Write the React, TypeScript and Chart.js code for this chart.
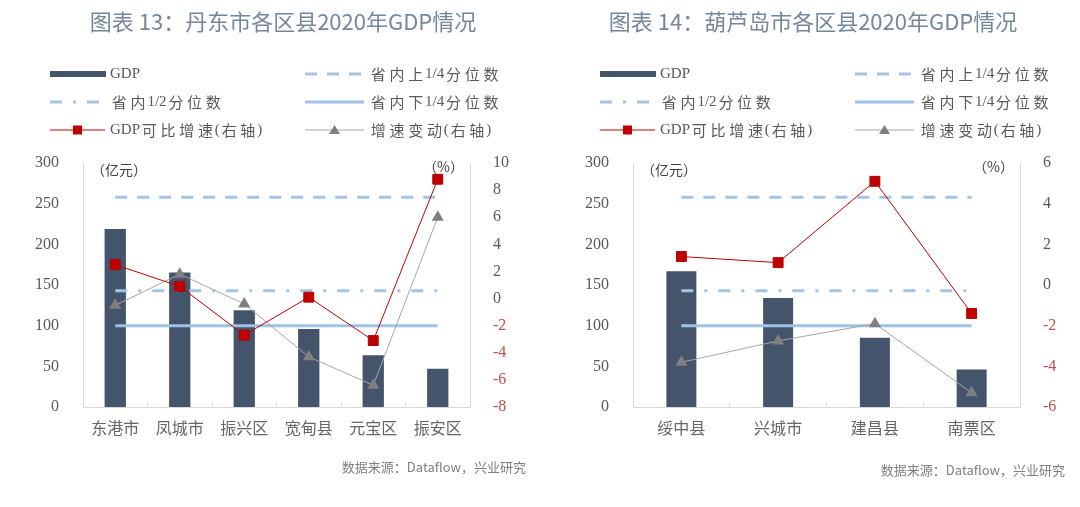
import React, { useEffect, useRef } from 'react';
import { Chart, registerables } from 'chart.js';

Chart.register(...registerables);

// ---------- data ----------
const TITLE_A = '图表 13：丹东市各区县2020年GDP情况';
const TITLE_B = '图表 14：葫芦岛市各区县2020年GDP情况';
const SOURCE_TEXT = '数据来源：Dataflow，兴业研究';

const CATS_A = ['东港市', '凤城市', '振兴区', '宽甸县', '元宝区', '振安区'];
const GDP_A = [219, 165.5, 119, 96, 63.5, 47];
const GROWTH_A = [2.5, 0.9, -2.7, 0.1, -3.1, 8.8];
const CHANGE_A = [-0.5, 1.8, -0.4, -4.3, -6.4, 6.0];

const CATS_B = ['绥中县', '兴城市', '建昌县', '南票区'];
const GDP_B = [167, 134, 85, 46];
const GROWTH_B = [1.4, 1.1, 5.1, -1.4];
const CHANGE_B = [-3.8, -2.75, -1.9, -5.3];

const UPPER_Q = 258;
const MEDIAN_Q = 143;
const LOWER_Q = 100;

const LEFT_AXIS = { min: 0, max: 300, step: 50 };
const RIGHT_AXIS_A = { min: -8, max: 10, step: 2 };
const RIGHT_AXIS_B = { min: -6, max: 6, step: 2 };

const LEGEND_LABELS = [
  'GDP',
  '省内上1/4分位数',
  '省内1/2分位数',
  '省内下1/4分位数',
  'GDP可比增速(右轴)',
  '增速变动(右轴)',
];

// ---------- styles ----------
const H = 507;
const BAR_COLOR = '#44546a';
const Q_COLOR = '#a3c5e3';
const Q_SOLID = '#9dc3e6';
const RED = '#c00000';
const GRAY_LINE = '#a6a6a6';
const GRAY_MARK = '#7f7f7f';
const TEXT = '#595959';
const NEG = '#c0504d';
const AXIS = '#d9d9d9';
const TITLE_COLOR = '#74879b';
const CJK = '"Noto Sans CJK SC"';
const SERIF = '"Liberation Serif"';

const DASH = [12, 10];
const DASH_DOT = [12, 11, 3, 11];

type Spec = {
  title: string;
  cats: string[];
  gdp: number[];
  growth: number[];
  change: number[];
  right: { min: number; max: number; step: number };
  titleX: number;
  sourceRight: number;
  sourceY: number;
  barPct: number;
  width: number;
};

function drawMixed(ctx: CanvasRenderingContext2D, text: string, x: number, y: number) {
  let cx = x;
  for (const ch of Array.from(text)) {
    const isCJK = /[\u2E80-\u9FFF\uFF00-\uFFEF]/.test(ch);
    if (isCJK) {
      ctx.font = `15px ${CJK}`;
      const w = ctx.measureText(ch).width;
      const adv = 18.7;
      ctx.fillText(ch, cx + (adv - w) / 2, y);
      cx += adv;
    } else {
      ctx.font = `15px ${SERIF}`;
      ctx.fillText(ch, cx, y);
      cx += ctx.measureText(ch).width;
    }
  }
}

function makeDecor(spec: Spec) {
  return {
    id: 'decor',
    afterDraw(chart: any) {
      const ctx: CanvasRenderingContext2D = chart.ctx;
      ctx.save();
      // title
      ctx.font = `22px ${CJK}`;
      ctx.fillStyle = TITLE_COLOR;
      ctx.textAlign = 'center';
      ctx.textBaseline = 'middle';
      ctx.fillText(spec.title, spec.titleX, 22);

      // legend
      const colSym = [50, 305];
      const colLen = [55, 59];
      const colText = [110, 369];
      const rows = [74, 102, 130];
      ctx.textAlign = 'left';
      chart.data.datasets.forEach((ds: any, i: number) => {
        const col = i % 2;
        const row = Math.floor(i / 2);
        const x0 = colSym[col];
        const len = colLen[col];
        const y = rows[row];
        ctx.save();
        if (ds.type === 'bar') {
          ctx.fillStyle = ds.backgroundColor;
          ctx.fillRect(x0, y - 3, len + 1, 6);
        } else {
          ctx.strokeStyle = ds.borderColor;
          ctx.lineWidth = ds.borderWidth;
          ctx.setLineDash(ds.borderDash || []);
          ctx.lineCap = 'butt';
          ctx.beginPath();
          ctx.moveTo(x0, y);
          ctx.lineTo(x0 + len, y);
          ctx.stroke();
          ctx.setLineDash([]);
          const cx = x0 + len / 2;
          if (ds.pointStyle === 'rect') {
            ctx.fillStyle = ds.pointBackgroundColor;
            ctx.fillRect(cx - 4.5, y - 4.5, 9, 9);
          } else if (ds.pointStyle === 'triangle') {
            ctx.fillStyle = ds.pointBackgroundColor;
            ctx.beginPath();
            ctx.moveTo(cx, y - 5);
            ctx.lineTo(cx + 5.5, y + 4);
            ctx.lineTo(cx - 5.5, y + 4);
            ctx.closePath();
            ctx.fill();
          }
        }
        ctx.restore();
        ctx.fillStyle = TEXT;
        ctx.textBaseline = 'middle';
        drawMixed(ctx, LEGEND_LABELS[i], colText[col], y);
      });

      // units
      ctx.fillStyle = '#404040';
      ctx.font = `14px ${CJK}`;
      ctx.textAlign = 'left';
      ctx.textBaseline = 'middle';
      ctx.fillText('（亿元）', 91, 170);
      ctx.textAlign = 'right';
      ctx.fillText('（%）', 464, 167);

      // source
      ctx.fillStyle = '#808080';
      ctx.font = `13px ${CJK}`;
      ctx.textAlign = 'right';
      ctx.fillText(SOURCE_TEXT, spec.sourceRight, spec.sourceY);
      ctx.restore();
    },
  };
}

function makeConfig(spec: Spec): any {
  const n = spec.cats.length;
  const fill = (v: number) => spec.cats.map(() => v);
  return {
    type: 'bar',
    data: {
      labels: spec.cats,
      datasets: [
        {
          type: 'bar',
          label: LEGEND_LABELS[0],
          data: spec.gdp,
          backgroundColor: BAR_COLOR,
          barPercentage: spec.barPct,
          categoryPercentage: 1,
          yAxisID: 'y',
          order: 10,
        },
        {
          type: 'line',
          label: LEGEND_LABELS[1],
          data: fill(UPPER_Q),
          borderColor: Q_COLOR,
          borderWidth: 3,
          borderDash: DASH,
          pointRadius: 0,
          yAxisID: 'y',
          order: 5,
        },
        {
          type: 'line',
          label: LEGEND_LABELS[2],
          data: fill(MEDIAN_Q),
          borderColor: Q_COLOR,
          borderWidth: 3,
          borderDash: DASH_DOT,
          pointRadius: 0,
          yAxisID: 'y',
          order: 5,
        },
        {
          type: 'line',
          label: LEGEND_LABELS[3],
          data: fill(LOWER_Q),
          borderColor: Q_SOLID,
          borderWidth: 3,
          pointRadius: 0,
          yAxisID: 'y',
          order: 5,
        },
        {
          type: 'line',
          label: LEGEND_LABELS[4],
          data: spec.growth,
          borderColor: RED,
          borderWidth: 1,
          pointStyle: 'rect',
          pointRadius: 7,
          pointBackgroundColor: RED,
          pointBorderColor: '#b00000',
          pointBorderWidth: 1,
          yAxisID: 'y1',
          order: 1,
        },
        {
          type: 'line',
          label: LEGEND_LABELS[5],
          data: spec.change,
          borderColor: GRAY_LINE,
          borderWidth: 1,
          pointStyle: 'triangle',
          pointRadius: 7,
          pointBackgroundColor: GRAY_MARK,
          pointBorderColor: GRAY_MARK,
          pointBorderWidth: 0,
          yAxisID: 'y1',
          order: 2,
        },
      ],
    },
    options: {
      responsive: false,
      animation: false,
      devicePixelRatio: 1,
      layout: { padding: { top: 163, left: 0, right: 0, bottom: 0 } },
      plugins: {
        legend: { display: false },
        tooltip: { enabled: false },
        title: { display: false },
      },
      scales: {
        x: {
          type: 'category',
          offset: true,
          grid: {
            display: true,
            drawOnChartArea: false,
            drawTicks: true,
            tickLength: -4,
            color: AXIS,
            offset: true,
          },
          border: { display: true, color: AXIS, width: 1 },
          ticks: {
            color: '#666666',
            font: { family: CJK, size: 16 },
            padding: 15,
            maxRotation: 0,
          },
          afterFit: (s: any) => {
            s.height = 100;
          },
        },
        y: {
          position: 'left',
          min: LEFT_AXIS.min,
          max: LEFT_AXIS.max,
          grid: { display: false },
          border: { display: true, color: AXIS, width: 1 },
          ticks: {
            stepSize: LEFT_AXIS.step,
            color: TEXT,
            font: { family: SERIF, size: 16 },
            padding: 16,
          },
          afterFit: (s: any) => {
            s.width = 83;
          },
        },
        y1: {
          position: 'right',
          min: spec.right.min,
          max: spec.right.max,
          grid: { display: false },
          border: { display: true, color: AXIS, width: 1 },
          ticks: {
            stepSize: spec.right.step,
            color: (c: any) => (c.tick && c.tick.value < 0 ? NEG : TEXT),
            font: { family: SERIF, size: 16 },
            padding: 15,
          },
          afterFit: (s: any) => {
            s.width = spec.width - 470;
          },
        },
      },
    },
    plugins: [makeDecor(spec)],
  };
}

function Panel({ spec, left }: { spec: Spec; left: number }) {
  const ref = useRef<HTMLCanvasElement>(null);
  useEffect(() => {
    if (!ref.current) return;
    const chart = new Chart(ref.current, makeConfig(spec));
    return () => chart.destroy();
  }, [spec]);
  return (
    <canvas
      ref={ref}
      width={spec.width}
      height={H}
      style={{ position: 'absolute', left, top: 0, width: spec.width, height: H }}
    />
  );
}

const SPEC_A: Spec = {
  title: TITLE_A,
  cats: CATS_A,
  gdp: GDP_A,
  growth: GROWTH_A,
  change: CHANGE_A,
  right: RIGHT_AXIS_A,
  titleX: 283,
  sourceRight: 526,
  sourceY: 467,
  barPct: 0.33,
  width: 540,
};

const SPEC_B: Spec = {
  title: TITLE_B,
  cats: CATS_B,
  gdp: GDP_B,
  growth: GROWTH_B,
  change: CHANGE_B,
  right: RIGHT_AXIS_B,
  titleX: 263,
  sourceRight: 515,
  sourceY: 470,
  barPct: 0.31,
  width: 530,
};

export default function App() {
  return (
    <div
      style={{
        position: 'absolute',
        left: 0,
        top: 0,
        width: 1080,
        height: H,
        background: '#ffffff',
        overflow: 'hidden',
      }}
    >
      <Panel spec={SPEC_A} left={0} />
      <Panel spec={SPEC_B} left={550} />
    </div>
  );
}
